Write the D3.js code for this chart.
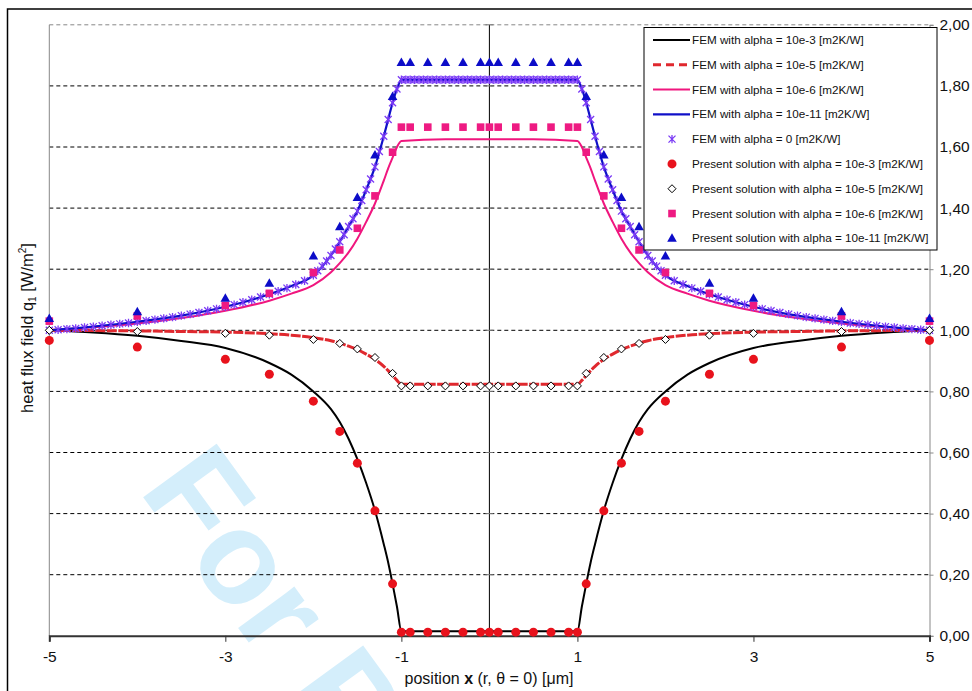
<!DOCTYPE html>
<html>
<head>
<meta charset="utf-8">
<script src="https://cdn.jsdelivr.net/npm/d3@7"></script>
<style>
  body { margin: 0; background: #fff; }
  svg { display: block; font-family: "Liberation Sans", Arial, sans-serif; }
</style>
</head>
<body>
<script>
// ---- data (left half, x <= 0; the chart is mirrored about x = 0) ----
var femX     = [-5, -4.5, -4, -3.5, -3, -2.5, -2.25, -2, -1.8, -1.7, -1.6, -1.5, -1.4, -1.3, -1.2, -1.15, -1.1, -1.05, -1, -0.5, 0];
var fem1e3   = [1.0, 0.993, 0.982, 0.965, 0.942, 0.893, 0.855, 0.8, 0.742, 0.70, 0.645, 0.578, 0.5, 0.41, 0.30, 0.24, 0.17, 0.095, 0.015, 0.015, 0.015];
var fem1e5   = [1.0, 0.999, 0.998, 0.996, 0.994, 0.989, 0.984, 0.976, 0.966, 0.958, 0.948, 0.937, 0.922, 0.905, 0.882, 0.868, 0.852, 0.836, 0.823, 0.823, 0.823];
var fem1e6   = [1.0, 1.01, 1.022, 1.04, 1.064, 1.097, 1.12, 1.148, 1.19, 1.22, 1.255, 1.30, 1.355, 1.415, 1.49, 1.53, 1.565, 1.60, 1.62, 1.625, 1.625];
var fem1e11  = [1.0, 1.012, 1.028, 1.048, 1.077, 1.118, 1.145, 1.18, 1.245, 1.29, 1.34, 1.39, 1.46, 1.535, 1.635, 1.69, 1.745, 1.79, 1.82, 1.82, 1.82];

var fem0X = [-5.0, -4.9, -4.8, -4.7, -4.6, -4.5, -4.4, -4.3, -4.2, -4.1, -4.0, -3.9, -3.8, -3.7, -3.6, -3.5, -3.4, -3.3, -3.2, -3.1,
             -3.0, -2.9, -2.8, -2.7, -2.6, -2.5, -2.4, -2.3, -2.2, -2.1, -2.0, -1.95, -1.9, -1.85, -1.8, -1.75, -1.7, -1.65, -1.6, -1.55,
             -1.5, -1.45, -1.4, -1.35, -1.3, -1.25, -1.2, -1.15, -1.1, -1.05, -1.0, -0.95, -0.9, -0.85, -0.8, -0.75, -0.7, -0.65, -0.6, -0.55,
             -0.5, -0.45, -0.4, -0.35, -0.3, -0.25, -0.2, -0.15, -0.1, -0.05, 0];
var fem0Y = [1.000, 1.002, 1.004, 1.006, 1.009, 1.012, 1.015, 1.018, 1.021, 1.024, 1.028, 1.031, 1.035, 1.039, 1.043, 1.048, 1.053, 1.058, 1.064, 1.070,
             1.077, 1.084, 1.092, 1.100, 1.109, 1.118, 1.128, 1.138, 1.150, 1.162, 1.180, 1.195, 1.210, 1.227, 1.245, 1.266, 1.290, 1.313, 1.340, 1.365,
             1.390, 1.425, 1.460, 1.495, 1.535, 1.585, 1.635, 1.690, 1.745, 1.790, 1.820, 1.820, 1.820, 1.820, 1.820, 1.820, 1.820, 1.820, 1.820, 1.820,
             1.820, 1.820, 1.820, 1.820, 1.820, 1.820, 1.820, 1.820, 1.820, 1.820, 1.820];

var presX    = [-5, -4, -3, -2.5, -2, -1.7, -1.5, -1.3, -1.1, -1, -0.9, -0.7, -0.5, -0.3, -0.1, 0];
var pres1e3  = [0.967, 0.945, 0.905, 0.856, 0.768, 0.669, 0.565, 0.409, 0.17, 0.012, 0.012, 0.012, 0.012, 0.012, 0.012, 0.012];
var pres1e5  = [1.0, 0.996, 0.99, 0.984, 0.97, 0.957, 0.939, 0.911, 0.859, 0.818, 0.818, 0.818, 0.818, 0.818, 0.818, 0.818];
var pres1e6  = [1.03, 1.047, 1.081, 1.121, 1.189, 1.263, 1.334, 1.44, 1.583, 1.665, 1.665, 1.665, 1.665, 1.665, 1.665, 1.665];
var pres1e11 = [1.039, 1.061, 1.105, 1.154, 1.243, 1.339, 1.435, 1.574, 1.765, 1.877, 1.877, 1.877, 1.877, 1.877, 1.877, 1.877];

var xTicks = [-5, -3, -1, 1, 3, 5];
var xTickLabels = ['-5', '-3', '-1', '1', '3', '5'];
var yTicks = [0, 0.2, 0.4, 0.6, 0.8, 1.0, 1.2, 1.4, 1.6, 1.8, 2.0];
var yTickLabels = ['0,00', '0,20', '0,40', '0,60', '0,80', '1,00', '1,20', '1,40', '1,60', '1,80', '2,00'];

var legendLabels = [
  'FEM with alpha = 10e-3 [m2K/W]',
  'FEM with alpha = 10e-5 [m2K/W]',
  'FEM with alpha = 10e-6 [m2K/W]',
  'FEM with alpha = 10e-11 [m2K/W]',
  'FEM with alpha = 0 [m2K/W]',
  'Present solution with alpha = 10e-3 [m2K/W]',
  'Present solution with alpha = 10e-5 [m2K/W]',
  'Present solution with alpha = 10e-6 [m2K/W]',
  'Present solution with alpha = 10e-11 [m2K/W]'
];

// mirror a left-half series to the full -5..5 range
function full(xs, ys) {
  var left = xs.map(function(x, i) { return [x, ys[i]]; });
  var right = left.filter(function(d) { return d[0] < 0; })
    .map(function(d) { return [-d[0], d[1]]; }).reverse();
  return left.concat(right);
}

var W = 972, H = 691;
var svg = d3.select('body').append('svg')
  .attr('width', W)
  .attr('height', H);

var x = d3.scaleLinear().domain([-5, 5]).range([49.3, 929.5]);
var y = d3.scaleLinear().domain([0, 2]).range([635.8, 24.8]);

// watermark
svg.append('text')
  .text('For Peer Review')
  .attr('transform', 'translate(138,490) rotate(54)')
  .attr('font-size', 132)
  .attr('font-weight', 'bold')
  .attr('fill', '#d4eefb');

// outer frame
svg.append('rect')
  .attr('x', 7.5).attr('y', 9)
  .attr('width', 1000).attr('height', 1000)
  .attr('fill', 'none')
  .attr('stroke', '#000')
  .attr('stroke-width', 1.5);

// grid lines
svg.append('g').selectAll('line')
  .data(yTicks.filter(function(v) { return v > 0; }))
  .enter().append('line')
  .attr('x1', x(-5)).attr('x2', x(5))
  .attr('y1', function(d) { return y(d); })
  .attr('y2', function(d) { return y(d); })
  .attr('stroke', function(d) { return d === 2 ? '#888' : '#000'; })
  .attr('stroke-width', 1)
  .attr('stroke-dasharray', '4,3');

// left plot edge
svg.append('line')
  .attr('x1', x(-5)).attr('x2', x(-5))
  .attr('y1', y(0)).attr('y2', y(2))
  .attr('stroke', '#888').attr('stroke-width', 1);

// right axis
var yAxis = d3.axisRight(y)
  .tickValues(yTicks)
  .tickSize(4)
  .tickPadding(6)
  .tickFormat(function(d, i) { return yTickLabels[i]; });

var gy = svg.append('g')
  .attr('transform', 'translate(' + x(5) + ',0)')
  .call(yAxis);
gy.select('.domain').attr('stroke', '#888');
gy.selectAll('.tick line').attr('stroke', '#888');
gy.selectAll('.tick text')
  .attr('font-size', 15.5)
  .attr('font-family', '"Liberation Sans", Arial, sans-serif')
  .attr('fill', '#111');

// center vertical axis with cross ticks
svg.append('line')
  .attr('x1', x(0)).attr('x2', x(0))
  .attr('y1', y(0)).attr('y2', y(2))
  .attr('stroke', '#000').attr('stroke-width', 1);
svg.append('g').selectAll('line')
  .data(yTicks)
  .enter().append('line')
  .attr('x1', x(0) - 4).attr('x2', x(0) + 4)
  .attr('y1', function(d) { return y(d); })
  .attr('y2', function(d) { return y(d); })
  .attr('stroke', '#777').attr('stroke-width', 1);

// bottom axis
var xAxis = d3.axisBottom(x)
  .tickValues(xTicks)
  .tickSize(6)
  .tickPadding(9)
  .tickFormat(function(d, i) { return xTickLabels[i]; });

var gx = svg.append('g')
  .attr('transform', 'translate(0,' + y(0) + ')')
  .call(xAxis);
gx.select('.domain').attr('stroke', '#333').attr('stroke-width', 2);
gx.selectAll('.tick line').attr('stroke', '#333');
gx.selectAll('.tick text')
  .attr('font-size', 15.5)
  .attr('font-family', '"Liberation Sans", Arial, sans-serif')
  .attr('fill', '#111');

// axis titles
var xt = svg.append('text')
  .attr('x', 489).attr('y', 684)
  .attr('text-anchor', 'middle')
  .attr('font-size', 16)
  .attr('fill', '#111');
xt.append('tspan').text('position ');
xt.append('tspan').attr('font-weight', 'bold').text('x');
xt.append('tspan').text(' (r, \u03b8 = 0) [\u03bcm]');

var yt = svg.append('text')
  .attr('transform', 'translate(33,328) rotate(-90)')
  .attr('text-anchor', 'middle')
  .attr('font-size', 16.5)
  .attr('fill', '#111');
yt.append('tspan').text('heat flux field q');
yt.append('tspan').attr('font-size', 10).attr('dy', 3).text('1');
yt.append('tspan').attr('dy', -3).text(' [W/m');
yt.append('tspan').attr('font-size', 10).attr('dy', -7).text('2');
yt.append('tspan').attr('dy', 7).text(']');

// lines
var line = d3.line()
  .x(function(d) { return x(d[0]); })
  .y(function(d) { return y(d[1]); })
  .curve(d3.curveMonotoneX);

var lineSeries = [
  { ys: fem1e3,  color: '#000000', width: 2,   dash: null },
  { ys: fem1e5,  color: '#e0282e', width: 3,   dash: '10,1.5' },
  { ys: fem1e6,  color: '#f0167e', width: 2,   dash: null },
  { ys: fem1e11, color: '#1010c8', width: 2.2, dash: null }
];

var gl = svg.append('g');
lineSeries.forEach(function(s) {
  gl.append('path')
    .datum(full(femX, s.ys))
    .attr('d', line)
    .attr('fill', 'none')
    .attr('stroke', s.color)
    .attr('stroke-width', s.width)
    .attr('stroke-dasharray', s.dash);
});

// marker shapes
function asterisk(g) {
  g.append('path')
    .attr('d', 'M-3.5,-3.5L3.5,3.5M-3.5,3.5L3.5,-3.5M0,-4.2L0,4.2')
    .attr('stroke', '#7a3af5')
    .attr('stroke-width', 1.3)
    .attr('fill', 'none');
}
function dot(g) {
  g.append('circle').attr('r', 4.5).attr('fill', '#e8121c');
}
function diamond(g) {
  g.append('path')
    .attr('d', 'M0,-4L4,0L0,4L-4,0Z')
    .attr('fill', '#fff')
    .attr('stroke', '#000')
    .attr('stroke-width', 1);
}
function square(g) {
  g.append('rect')
    .attr('x', -3.8).attr('y', -3.8)
    .attr('width', 7.6).attr('height', 7.6)
    .attr('fill', '#ee1a82');
}
function triangle(g) {
  g.append('path')
    .attr('d', 'M0,-5L4.8,3.5L-4.8,3.5Z')
    .attr('fill', '#0c0cc8');
}

function drawMarkers(pts, shape) {
  svg.append('g').selectAll('g')
    .data(pts)
    .enter().append('g')
    .attr('transform', function(d) { return 'translate(' + x(d[0]) + ',' + y(d[1]) + ')'; })
    .each(function() { shape(d3.select(this)); });
}

drawMarkers(full(fem0X, fem0Y), asterisk);
drawMarkers(full(presX, pres1e3), dot);
drawMarkers(full(presX, pres1e5), diamond);
drawMarkers(full(presX, pres1e6), square);
drawMarkers(full(presX, pres1e11), triangle);

// legend
var lg = svg.append('g');
lg.append('rect')
  .attr('x', 644).attr('y', 27.5)
  .attr('width', 293).attr('height', 222.5)
  .attr('fill', '#fff')
  .attr('stroke', '#000')
  .attr('stroke-width', 1);

var legendY = d3.scalePoint().domain(d3.range(9)).range([40, 238.3]);
var legendShapes = [null, null, null, null, asterisk, dot, diamond, square, triangle];

legendLabels.forEach(function(label, i) {
  var ly = legendY(i);
  if (i < 4) {
    var s = lineSeries[i];
    lg.append('line')
      .attr('x1', 653).attr('x2', 690)
      .attr('y1', ly).attr('y2', ly)
      .attr('stroke', s.color)
      .attr('stroke-width', s.width)
      .attr('stroke-dasharray', i === 1 ? '8,5' : null);
  } else {
    var m = lg.append('g').attr('transform', 'translate(672,' + ly + ')');
    legendShapes[i](m);
  }
  lg.append('text')
    .attr('x', 692).attr('y', ly)
    .attr('dy', '0.35em')
    .attr('font-size', 11.7)
    .attr('fill', '#111')
    .text(label);
});
</script>
</body>
</html>
